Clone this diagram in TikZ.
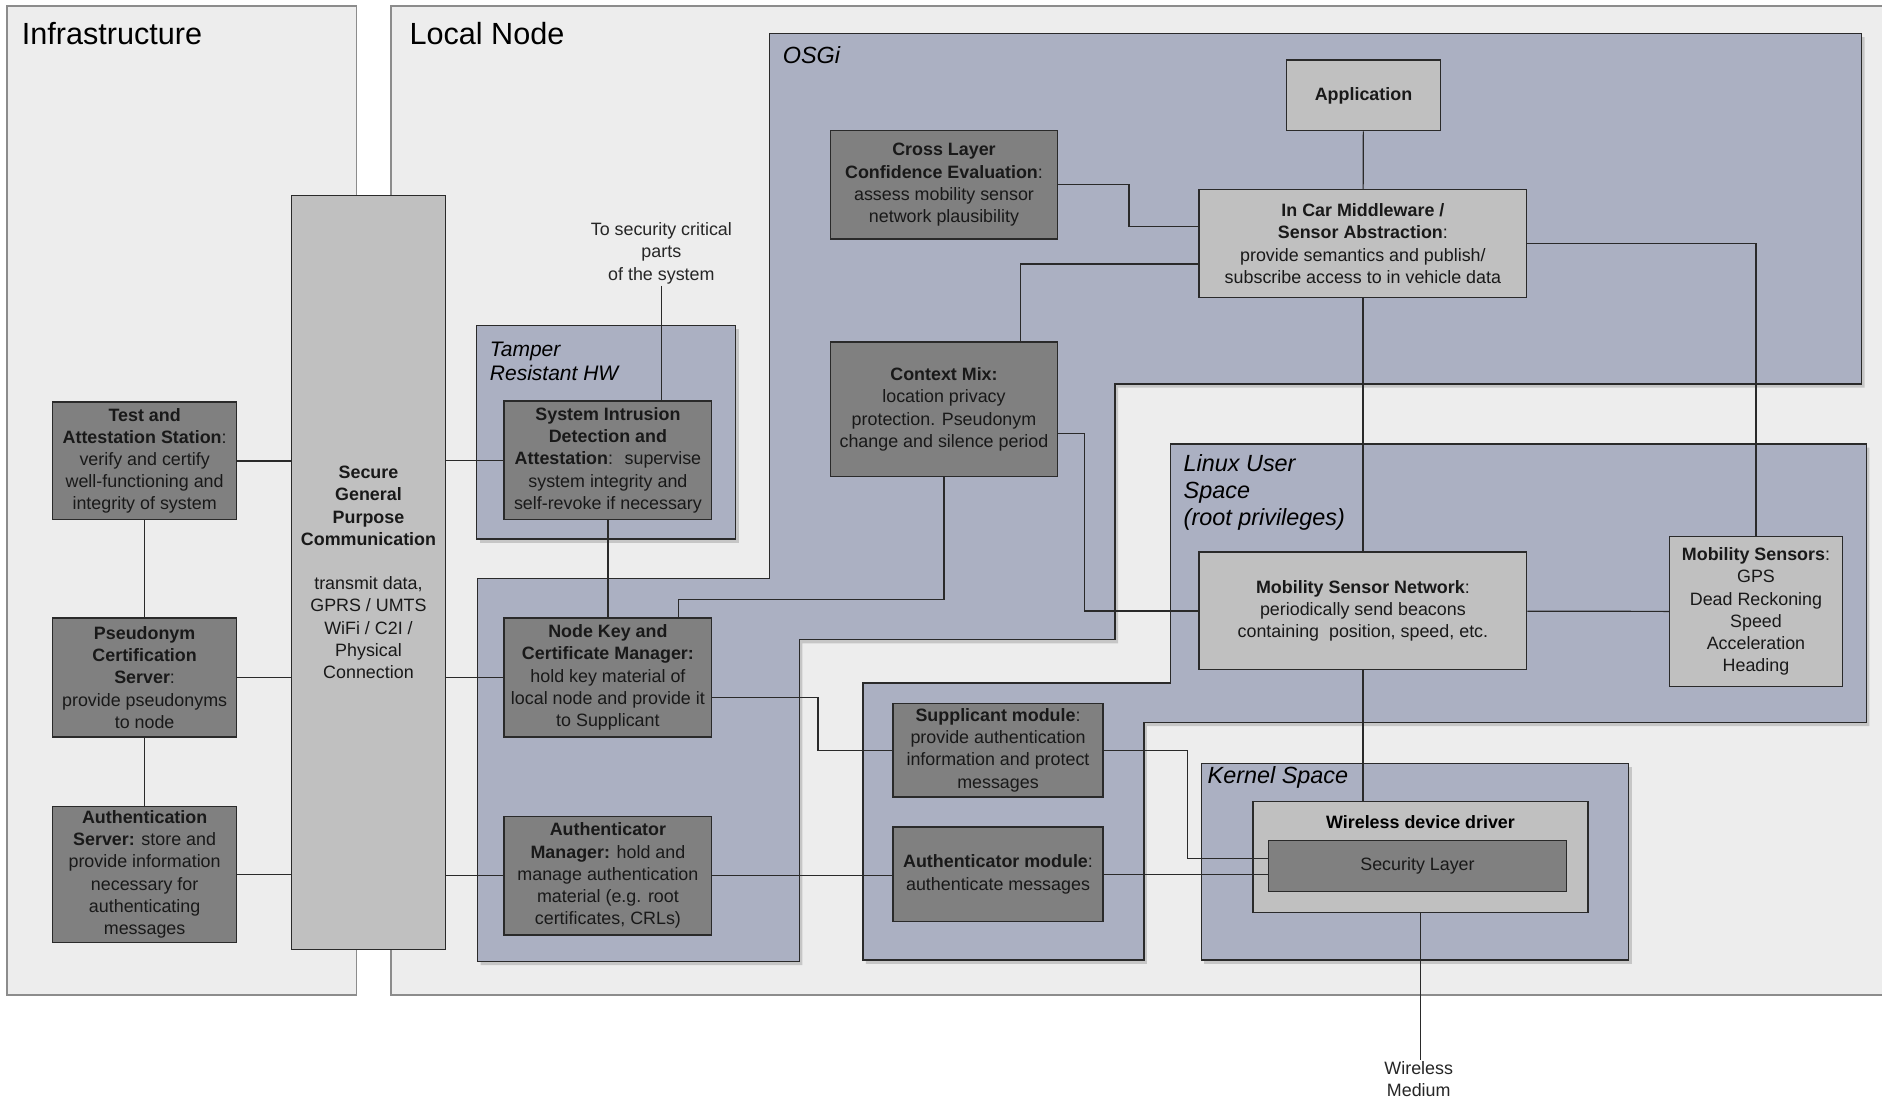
\documentclass[tikz,border=0pt]{standalone}
\usepackage{fontspec}
\setmainfont{Liberation Sans}
\usetikzlibrary{shadows}
\definecolor{shellgray}{HTML}{EDEDED}
\definecolor{tierblue}{HTML}{ABB0C2}
\definecolor{boxdark}{HTML}{808080}
\definecolor{boxlight}{HTML}{C0C0C0}
\definecolor{edgegray}{HTML}{2A2A2A}
\begin{document}
\begin{tikzpicture}[x=1pt,y=-1pt,
    shell/.style={fill=shellgray,draw=gray!90,line width=1.5pt},
    tier/.style={fill=tierblue,draw=edgegray,line width=1.2pt,
      drop shadow={shadow xshift=2.5pt,shadow yshift=-3pt,opacity=0.35}},
    box/.style={draw=edgegray,line width=1.1pt,inner sep=1pt,align=center,
      text=black!90,font=\fontsize{14.9}{18.5}\selectfont},
    dbox/.style={box,fill=boxdark},
    lbox/.style={box,fill=boxlight},
    heading/.style={anchor=west,inner sep=0pt,font=\fontsize{25.5}{30}\selectfont},
    tiername/.style={anchor=west,align=left,inner sep=0pt,
      font=\fontsize{19.5}{22.5}\selectfont\itshape},
    plain/.style={align=center,inner sep=1pt,text=black!85,
      font=\fontsize{14.9}{19}\selectfont}]
  \useasboundingbox (0,0) rectangle (1568,916);
  \clip (0,0) rectangle (1568,916);
  \fill[white] (0,0) rectangle (1568,916);

  \draw[shell] (6,5) rectangle (297,829);
  \draw[shell] (326,5) rectangle (1600,829);
  \node[heading] (infra) at (18,28) {Infrastructure};
  \node[heading] (local) at (341,28) {Local Node};

  \draw[tier] (397,271) rectangle (613,449);
  \draw[tier] (641,28) -- (1551,28) -- (1551,320) -- (929,320) -- (929,533)
    -- (666,533) -- (666,801) -- (398,801) -- (398,482) -- (641,482) -- cycle;
  \draw[tier] (975,370) -- (1555,370) -- (1555,602) -- (953,602) -- (953,800)
    -- (719,800) -- (719,569) -- (975,569) -- cycle;
  \draw[tier] (1001,636) rectangle (1357,800);
  \node[tiername,font=\fontsize{17.5}{20.5}\selectfont\itshape] (tamper) at (408,301) {Tamper\\Resistant HW};
  \node[tiername] (osgi) at (652,46) {OSGi};
  \node[tiername] (linux) at (986,410) {Linux User\\Space\\(root privileges)};
  \node[tiername] (kernel) at (1006,648) {Kernel Space};

  \node[dbox,minimum width=153,minimum height=98] (tas) at (120.5,384)
    {\textbf{Test and}\\\textbf{Attestation Station}:\\verify and certify\\well-functioning and\\integrity of system};
  \node[dbox,minimum width=153,minimum height=99] (pcs) at (120.5,564.5)
    {\textbf{Pseudonym}\\\textbf{Certification}\\\textbf{Server}:\\provide pseudonyms\\to node};
  \node[dbox,minimum width=153,minimum height=113] (aus) at (120.5,728.5)
    {\textbf{Authentication}\\\textbf{Server:} store and\\provide information\\necessary for\\authenticating\\messages};
  \node[lbox,minimum width=128,minimum height=628] (sgpc) at (307,477)
    {\textbf{Secure}\\\textbf{General}\\\textbf{Purpose}\\\textbf{Communication}\\[18.5pt]transmit data,\\GPRS / UMTS\\WiFi / C2I /\\Physical\\Connection};
  \node[dbox,minimum width=173,minimum height=99] (sid) at (506.5,383.5)
    {\textbf{System Intrusion}\\\textbf{Detection and}\\\textbf{Attestation}:~ supervise\\system integrity and\\self-revoke if necessary};
  \node[dbox,minimum width=173,minimum height=99] (nkm) at (506.5,564.5)
    {\textbf{Node Key and}\\\textbf{Certificate Manager:}\\hold key material of\\local node and provide it\\to Supplicant};
  \node[dbox,minimum width=173,minimum height=99] (aum) at (506.5,729.5)
    {\textbf{Authenticator}\\\textbf{Manager:} hold and\\manage authentication\\material (e.g. root\\certificates, CRLs)};
  \node[plain] (crit) at (551,211) {To security critical\\parts\\of the system};
  \node[lbox,minimum width=128,minimum height=59] (app) at (1136,79.5) {\textbf{Application}};
  \node[dbox,minimum width=189,minimum height=90] (cle) at (786.5,154)
    {\textbf{Cross Layer}\\\textbf{Confidence Evaluation}:\\assess mobility sensor\\network plausibility};
  \node[lbox,minimum width=273,minimum height=90] (icm) at (1135.5,203)
    {\textbf{In Car Middleware /}\\\textbf{Sensor Abstraction}:\\provide semantics and publish/\\subscribe access to in vehicle data};
  \node[dbox,minimum width=189,minimum height=112] (cmx) at (786.5,341)
    {\textbf{Context Mix:}\\location privacy\\protection. Pseudonym\\change and silence period};
  \node[lbox,minimum width=273,minimum height=98] (msn) at (1135.5,509)
    {\textbf{Mobility Sensor Network}:\\periodically send beacons\\containing~ position, speed, etc.};
  \node[lbox,minimum width=144,minimum height=125] (mse) at (1463,509.5)
    {\textbf{Mobility Sensors}:\\GPS\\Dead Reckoning\\Speed\\Acceleration\\Heading};
  \node[dbox,minimum width=175,minimum height=78] (sup) at (831.5,625)
    {\textbf{Supplicant module}:\\provide authentication\\information and protect\\messages};
  \node[dbox,minimum width=175,minimum height=79] (aut) at (831.5,728.5)
    {\textbf{Authenticator module}:\\authenticate messages};
  \node[lbox,minimum width=279,minimum height=92,
    label={[anchor=north,label distance=-8.5pt,font=\fontsize{14.9}{18.5}\selectfont]north:\textbf{Wireless device driver}}]
    (wdd) at (1183.5,714) {};
  \node[dbox,minimum width=248,minimum height=43] (sly) at (1181,721.5) {Security Layer};
  \node[plain] (wm) at (1182,899) {Wireless\\Medium};

  \begin{scope}[line width=1pt,draw=edgegray]
    \draw (tas.east) -- (tas.east -| sgpc.west);
    \draw (pcs.east) -- (pcs.east -| sgpc.west);
    \draw (aus.east) -- (aus.east -| sgpc.west);
    \draw (tas) -- (pcs);
    \draw (pcs) -- (aus);
    \draw (sgpc.east |- sid.west) -- (sid.west);
    \draw (sgpc.east |- nkm.west) -- (nkm.west);
    \draw (sgpc.east |- aum.west) -- (aum.west);
    \draw (sid) -- (nkm);
    \draw (crit.south) -- (crit.south |- sid.north);
    \draw (cmx.south) -- ++(0,102) -| ([xshift=58.5pt]nkm.north);
    \draw ([yshift=-20pt]cmx.east) -- ++(22,0) |- (msn.west);
    \draw (cle.east) -- ++(59,0) |- ([yshift=14pt]icm.west);
    \draw ([yshift=-17pt]icm.west) -| ([xshift=63.5pt]cmx.north);
    \draw (app) -- (icm);
    \draw (icm) -- (msn);
    \draw (icm.east) -| (mse.north);
    \draw (msn) -- (mse);
    \draw (msn.south) -- (msn.south |- wdd.north);
    \draw ([yshift=-16.5pt]nkm.east) -- ++(88,0) |- (sup.west);
    \draw (sup.east) -- ++(70,0) |- ([yshift=6.5pt]sly.west);
    \draw (aum.east) -- (aum.east -| aut.west);
    \draw (aut.east) -- (aut.east -| sly.west);
    \draw (wdd.south) -- (wdd.south |- wm.north);
  \end{scope}
\end{tikzpicture}
\end{document}
